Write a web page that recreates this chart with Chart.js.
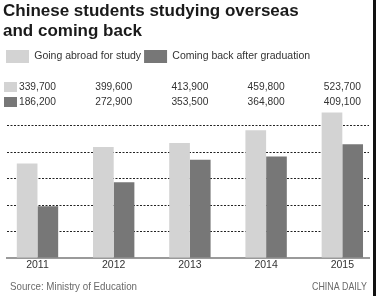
<!DOCTYPE html>
<html>
<head>
<meta charset="utf-8">
<script src="https://cdn.jsdelivr.net/npm/chart.js@4"></script>
<style>
  html, body { margin: 0; padding: 0; background: #fff; }
  #wrap { position: relative; width: 376px; height: 296px; overflow: hidden; }
  #edge { position: absolute; right: 0; top: 0; width: 3px; height: 296px; background: #111; }
</style>
</head>
<body>
<div id="wrap">
  <canvas id="chart" width="376" height="296"></canvas>
  <div id="edge"></div>
</div>
<script>
const years = ['2011', '2012', '2013', '2014', '2015'];
const goingAbroad = [339700, 399600, 413900, 459800, 523700];
const comingBack = [186200, 272900, 353500, 364800, 409100];
const seriesNames = ['Going abroad for study', 'Coming back after graduation'];
const titleLines = ['Chinese students studying overseas', 'and coming back'];
const sourceText = 'Source: Ministry of Education';
const creditText = 'CHINA DAILY';

const LIGHT = '#d3d3d3';
const DARK = '#777777';
const PX_PER_STEP = 27.8;   // pixel gap between dashed lines (100,000 each)
const BASELINE_Y = 258;     // where the grey base line sits

// check if the narrow face is installed, else fall back to a smaller regular face
function hasFont(name) {
    const c = document.createElement('canvas').getContext('2d');
    c.font = '40px monospace';
    const base = c.measureText('abcdefghijklmWW0123').width;
    c.font = `40px '${name}', monospace`;
    return c.measureText('abcdefghijklmWW0123').width !== base;
}
const narrow = hasFont('Liberation Sans Narrow');
const smallFamily = narrow ? "'Liberation Sans Narrow', 'Liberation Sans', sans-serif" : "'Liberation Sans', sans-serif";
const smallSize = narrow ? 12 : 10;

const fmt = v => v.toLocaleString('en-US');

// value rows above the plot + footer
const extraText = {
    id: 'extraText',
    afterDraw(chart) {
        const ctx = chart.ctx;
        const x = chart.scales.x;
        ctx.save();
        ctx.fillStyle = LIGHT;
        ctx.fillRect(4, 82, 13, 10);
        ctx.fillStyle = DARK;
        ctx.fillRect(4, 97, 13, 10);

        // slightly bigger text squeezed to the printed width
        ctx.font = `11.5px ${smallFamily}`;
        ctx.fillStyle = '#333';
        ctx.textAlign = 'center';
        ctx.textBaseline = 'middle';
        goingAbroad.forEach((v, i) => ctx.fillText(fmt(v), x.getPixelForValue(i), 87, 37));
        comingBack.forEach((v, i) => ctx.fillText(fmt(v), x.getPixelForValue(i), 101.5, 37));

        ctx.textBaseline = 'alphabetic';
        ctx.fillStyle = '#6a6a6a';
        ctx.textAlign = 'left';
        ctx.fillText(sourceText, 10, 290, 127);
        ctx.textAlign = 'right';
        ctx.fillText(creditText, 367, 290, 55);
        ctx.restore();
    }
};

const chart = new Chart(document.getElementById('chart').getContext('2d'), {
    type: 'bar',
    data: {
        datasets: [
            { label: seriesNames[0], data: goingAbroad.map((v, i) => ({x: i, y: v})), backgroundColor: LIGHT, borderWidth: 0 },
            { label: seriesNames[1], data: comingBack.map((v, i) => ({x: i, y: v})), backgroundColor: DARK, borderWidth: 0 }
        ]
    },
    options: {
        responsive: false,
        animation: false,
        devicePixelRatio: 1,
        categoryPercentage: 0.543,
        barPercentage: 1,
        layout: { padding: { left: 3, right: 7, top: 0, bottom: 19 } },
        plugins: {
            tooltip: { enabled: false },
            title: {
                display: true,
                text: titleLines,
                align: 'start',
                color: '#1a1a1a',
                font: { family: "'Liberation Sans', Arial, sans-serif", size: 17, weight: 'bold', lineHeight: '20px' },
                padding: { top: 1, bottom: 6 }
            },
            legend: {
                display: true,
                align: 'start',
                labels: {
                    boxWidth: 23,
                    boxHeight: 13,
                    padding: 3,
                    color: '#333',
                    font: { family: smallFamily, size: smallSize + 0.5 }
                }
            }
        },
        scales: {
            x: {
                type: 'linear',
                min: -0.4,
                max: 4.35,
                offset: false,
                grid: { display: false, drawTicks: false },
                border: { display: true, color: '#9a9a9a', width: 2 },
                ticks: {
                    stepSize: 1,
                    includeBounds: false,
                    autoSkip: false,
                    maxRotation: 0,
                    padding: 1,
                    color: '#333',
                    font: { family: smallFamily, size: smallSize + 0.5 },
                    callback: v => years[v] ?? ''
                }
            },
            y: {
                min: 0,
                max: 620000,
                afterFit: axis => { axis.width = 4; },
                ticks: { display: false, stepSize: 100000, includeBounds: false },
                border: { display: false, dash: [2, 1.5] },
                grid: {
                    drawTicks: false,
                    lineWidth: 1,
                    color: c => (c.tick && c.tick.value > 0 && c.tick.value <= 500000) ? '#222' : 'rgba(0,0,0,0)'
                }
            }
        }
    },
    plugins: [extraText]
});

// put the base line where the print has it, then fit the top so steps are PX_PER_STEP apart
chart.options.layout.padding.bottom += chart.chartArea.bottom - BASELINE_Y;
chart.update();
const area = chart.chartArea;
chart.options.scales.y.max = (area.bottom - area.top) / PX_PER_STEP * 100000;
chart.update();
</script>
</body>
</html>
